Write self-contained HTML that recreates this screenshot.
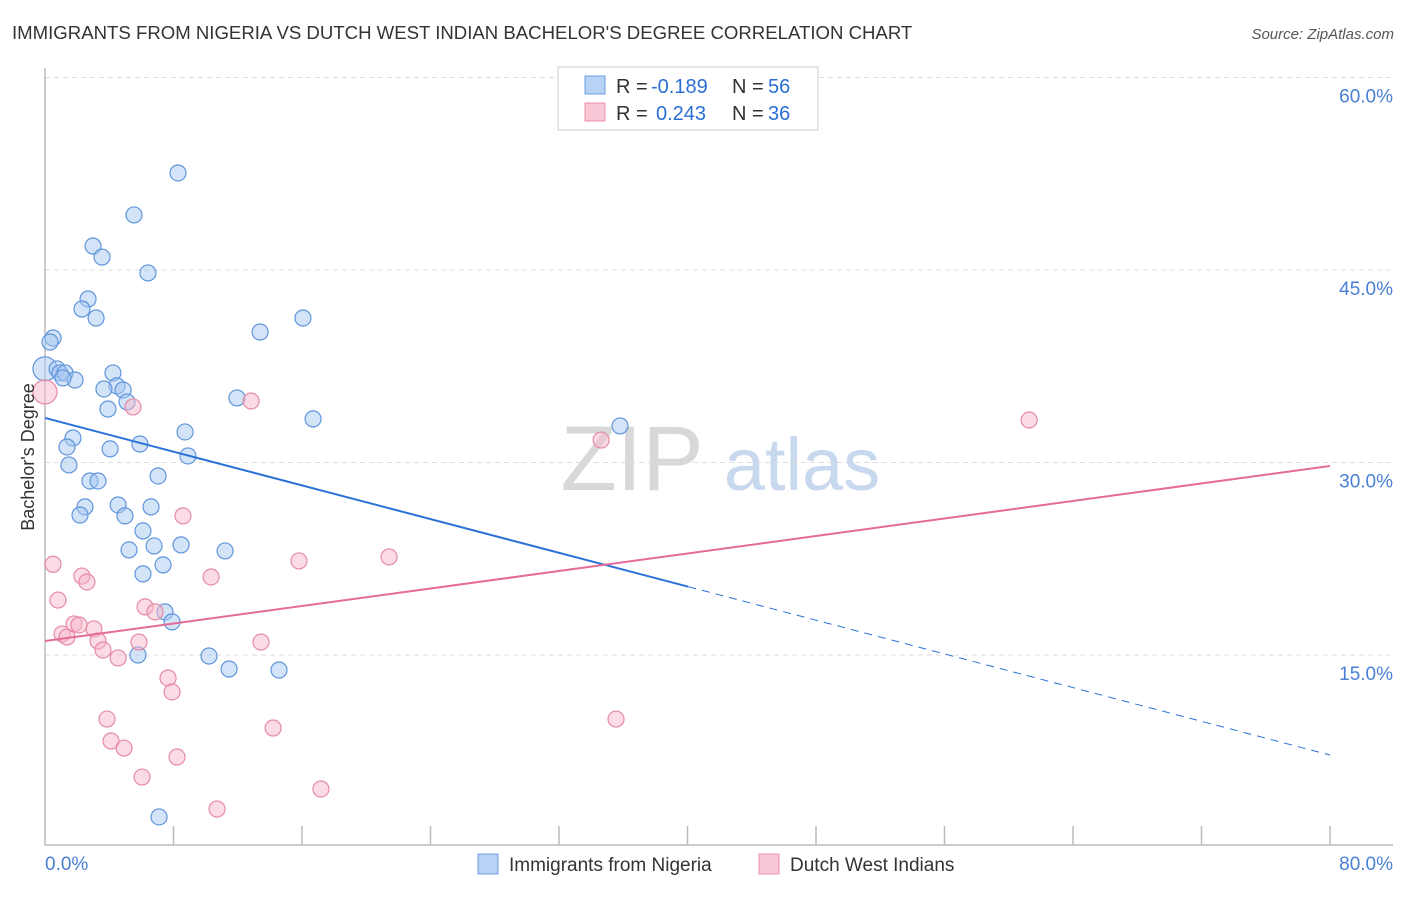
<!DOCTYPE html>
<html><head><meta charset="utf-8"><style>
body{margin:0;background:#fff;font-family:"Liberation Sans",sans-serif;}
svg text{font-family:"Liberation Sans",sans-serif;}
</style></head><body>
<svg id="chart" width="1406" height="892" viewBox="0 0 1406 892" xmlns="http://www.w3.org/2000/svg">
<text x="12" y="39" font-size="18.6" fill="#333">IMMIGRANTS FROM NIGERIA VS DUTCH WEST INDIAN BACHELOR'S DEGREE CORRELATION CHART</text>
<text x="1394" y="39" font-size="15" fill="#555" font-style="italic" text-anchor="end">Source: ZipAtlas.com</text>
<g>
<text x="632" y="490" font-size="92" fill="#d8d8d8" font-family="Liberation Serif" text-anchor="middle">ZIP</text>
<text x="802" y="490" font-size="74" fill="#c8d8ee" text-anchor="middle">atlas</text>
</g>
<g id="grid"></g>
<g id="axes"></g>
<g id="points"></g>
<g id="lines"></g>
<text transform="translate(34,457) rotate(-90)" font-size="18" fill="#333" text-anchor="middle">Bachelor's Degree</text>
<g font-size="20">
<rect x="558" y="67" width="260" height="63" fill="#fff" stroke="#ccc"/>
<rect x="585" y="76" width="20" height="18" fill="#b8d2f5" stroke="#6a9fe0"/>
<text x="616" y="93" fill="#333">R =</text>
<text x="651" y="93" fill="#2b6fd6">-0.189</text>
<text x="732" y="93" fill="#333">N =</text>
<text x="768" y="93" fill="#2b6fd6">56</text>
<rect x="585" y="103" width="20" height="18" fill="#f8c8d6" stroke="#e890a8"/>
<text x="616" y="120" fill="#333">R =</text>
<text x="656" y="120" fill="#2b6fd6">0.243</text>
<text x="732" y="120" fill="#333">N =</text>
<text x="768" y="120" fill="#2b6fd6">36</text>
</g>
<g>
<rect x="478" y="854" width="20" height="20" fill="#b8d2f5" stroke="#6a9fe0"/>
<text x="509" y="871" font-size="19" fill="#333">Immigrants from Nigeria</text>
<rect x="759" y="854" width="20" height="20" fill="#f8c8d6" stroke="#e890a8"/>
<text x="790" y="871" font-size="19" fill="#333">Dutch West Indians</text>
</g>
</svg>
<script>
const yTicks=[15,30,45,60];
const yTickLabels=["15.0%","30.0%","45.0%","60.0%"];
const xTicks=[0,8,16,24,32,40,48,56,64,72,80];
const blueX=[8.28,5.54,2.99,3.55,6.41,2.68,2.30,3.18,16.06,13.39,0.50,0.31,0.0,0.75,0.93,1.25,1.87,1.12,4.23,4.48,3.67,4.86,5.11,3.92,11.95,16.69,35.80,1.74,1.37,4.05,5.91,8.72,1.49,8.90,7.04,2.80,3.30,2.49,2.18,4.55,6.60,4.98,6.10,5.23,6.79,8.47,11.21,7.35,6.10,7.47,7.91,5.79,10.21,11.46,14.57,7.10];
const blueY=[52.56,49.29,46.87,46.01,44.77,42.74,41.96,41.26,41.26,40.17,39.70,39.39,37.3,37.29,36.98,36.98,36.43,36.59,36.98,35.97,35.73,35.65,34.72,34.17,35.03,33.40,32.85,31.91,31.21,31.06,31.44,32.38,29.81,30.51,28.95,28.56,28.56,26.54,25.91,26.69,26.54,25.84,24.67,23.19,23.50,23.58,23.11,22.02,21.32,18.36,17.58,15.00,14.92,13.91,13.83,2.38];
const pinkX=[0,0.5,0.81,2.30,2.61,1.06,1.37,1.81,2.12,3.05,3.30,3.61,4.55,5.48,12.83,8.59,10.34,15.81,21.42,34.62,61.27,6.23,6.85,5.85,7.66,7.91,13.45,3.86,4.11,4.92,14.20,35.55,6.04,8.22,10.71,17.18];
const pinkY=[35.5,22.07,19.28,21.15,20.69,16.64,16.40,17.42,17.34,17.03,16.09,15.39,14.77,34.33,34.79,25.84,21.08,22.33,22.64,31.75,33.31,18.75,18.36,16.01,13.21,12.12,16.01,10.01,8.30,7.75,9.31,10.01,5.49,7.05,3.00,4.56];
const blueTrend=[33.47,-0.3283]; // intercept, slope
const blueSolidEnd=40.05;
const pinkTrend=[16.09,0.1705];
const NS="http://www.w3.org/2000/svg";
const X=v=>45+v*1285/80;
const Y=v=>847.5-v*192.5/15;
function mk(tag,attrs,parent){const e=document.createElementNS(NS,tag);for(const k in attrs)e.setAttribute(k,attrs[k]);parent.appendChild(e);return e;}
const grid=document.getElementById('grid'),axes=document.getElementById('axes'),pts=document.getElementById('points'),lines=document.getElementById('lines');
yTicks.forEach((t,i)=>{
 const l=mk('line',{x1:45,x2:1393,y1:Y(t),y2:Y(t),stroke:'#ddd','stroke-dasharray':'5,4'},grid);
 
 
 const tx=mk('text',{x:1393,y:Y(t)+25,'font-size':19,fill:'#4a7fd4','text-anchor':'end'},axes);
 tx.textContent=yTickLabels[i];
 
 
});
const ax=mk('path',{d:'M45,68 V845 H1393',fill:'none',stroke:'#bbb','stroke-width':1.5},axes);


xTicks.forEach((t,i)=>{if(i===0)return;
 const l=mk('line',{x1:X(t),x2:X(t),y1:826,y2:845,stroke:'#bbb','stroke-width':1.5},axes);
 
 
});
const xl0=mk('text',{x:45,y:870,'font-size':19,fill:'#4a7fd4'},axes);xl0.textContent='0.0%';


const xl1=mk('text',{x:1393,y:870,'font-size':19,fill:'#4a7fd4','text-anchor':'end'},axes);xl1.textContent='80.0%';


function drawPts(xs,ys,fill,stroke,name){xs.forEach((x,i)=>{
 const r=(x===0)?12:8;
 const c=mk('circle',{cx:X(x),cy:Y(ys[i]),r:r,fill:fill,'fill-opacity':0.5,stroke:stroke,'stroke-width':1.2},pts);
 
 
});}
drawPts(blueX,blueY,'#a8c8f2','#5f95dc','nigeria-point');
drawPts(pinkX,pinkY,'#f7b8ca','#e58aa6','dutch-west-indian-point');
const f=(t,x)=>t[0]+t[1]*x;
const b1=mk('line',{x1:X(0),y1:Y(f(blueTrend,0)),x2:X(blueSolidEnd),y2:Y(f(blueTrend,blueSolidEnd)),stroke:'#2b72d8','stroke-width':2},lines);


const b2=mk('line',{x1:X(blueSolidEnd),y1:Y(f(blueTrend,blueSolidEnd)),x2:X(80),y2:Y(f(blueTrend,80)),stroke:'#2b72d8','stroke-width':1,'stroke-dasharray':'8,6'},lines);


const p1=mk('line',{x1:X(0),y1:Y(f(pinkTrend,0)),x2:X(80),y2:Y(f(pinkTrend,80)),stroke:'#e56b98','stroke-width':2},lines);


</script>
</body></html>
